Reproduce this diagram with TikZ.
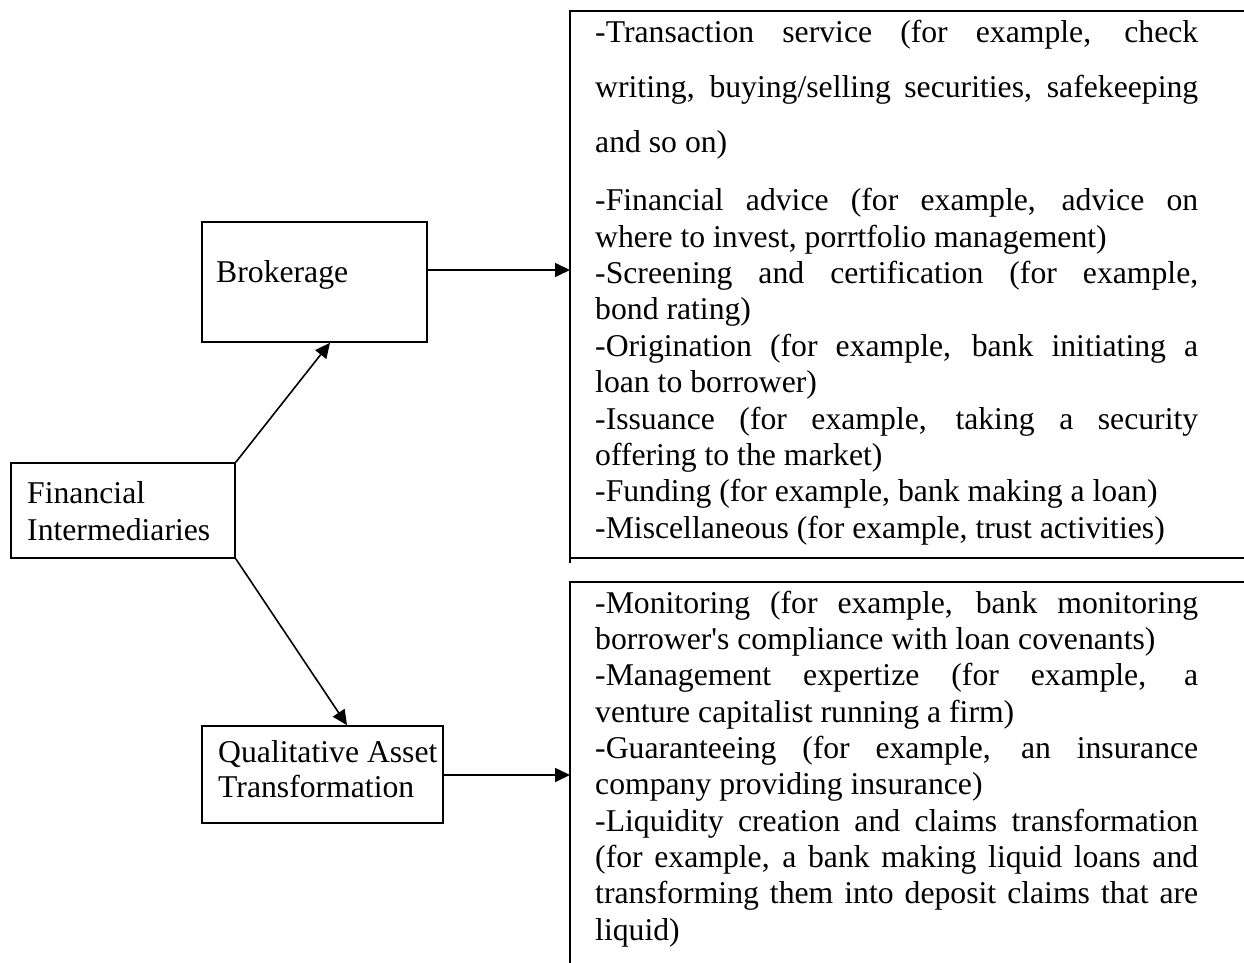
\documentclass[tikz,border=0pt]{standalone}
\usepackage{fontspec}
\setmainfont{Liberation Serif}
\usetikzlibrary{arrows.meta}
\newcommand\jline[1]{\makebox[603pt][s]{#1}}
\begin{document}
\begin{tikzpicture}[x=1pt,y=-1pt,
  box/.style={draw,line width=1.6pt,rectangle,inner sep=0pt},
  txt/.style={anchor=base west,inner sep=0pt,font=\fontsize{31.7pt}{36.5pt}\selectfont},
  arr/.style={line width=1.6pt,-{Triangle[length=15pt,width=14pt]}},
  frame/.style={line width=1.8pt}]
\useasboundingbox (0,0) rectangle (1244,963);
% left boxes
\node[box,minimum width=225pt,minimum height=120pt] (brok) at (314.5,282) {};
\node[box,minimum width=224pt,minimum height=95pt] (fi) at (123,510.5) {};
\node[box,minimum width=241pt,minimum height=97pt] (qat) at (322.5,774.5) {};
\node[txt] (brokt) at (216,282) {Brokerage};
\node[txt] (fit1) at (27,503) {Financial};
\node[txt] (fit2) at (27,540) {Intermediaries};
\node[txt] (qatt1) at (218,762) {Qualitative Asset};
\node[txt] (qatt2) at (218,797) {Transformation};
% right frames
\draw[frame] (1244,11) -- (570,11) -- (570,563);
\draw[frame] (570,558) -- (1244,558);
\draw[frame] (1244,582) -- (570,582) -- (570,963);
\coordinate (t1) at (570,270);
\coordinate (t2) at (570,775);
% connectors
\draw[arr] (fi.north east) -- ([xshift=15.5pt]brok.south);
\draw[arr] (fi.south east) -- ([xshift=24.5pt]qat.north);
\draw[arr] (brok.east |- t1) -- (t1);
\draw[arr] (qat.east |- t2) -- (t2);
% first list
\node[txt] (a1) at (595,43) {\jline{-Transaction service (for example, check}};
\node[txt] (a2) at (595,98) {\jline{writing, buying/selling securities, safekeeping}};
\node[txt] (a3) at (595,153) {and so on)};
\node[txt] (a4) at (595,210) {\jline{-Financial advice (for example, advice on}};
\node[txt] (a5) at (595,247) {where to invest, porrtfolio management)};
\node[txt] (a6) at (595,283.4) {\jline{-Screening and certification (for example,}};
\node[txt] (a7) at (595,319.8) {bond rating)};
\node[txt] (a8) at (595,356.2) {\jline{-Origination (for example, bank initiating a}};
\node[txt] (a9) at (595,392.6) {loan to borrower)};
\node[txt] (a10) at (595,429) {\jline{-Issuance (for example, taking a security}};
\node[txt] (a11) at (595,465.4) {offering to the market)};
\node[txt] (a12) at (595,501.8) {-Funding (for example, bank making a loan)};
\node[txt] (a13) at (595,538.2) {-Miscellaneous (for example, trust activities)};
% second list
\node[txt] (b1) at (595,613) {\jline{-Monitoring (for example, bank monitoring}};
\node[txt] (b2) at (595,649.3) {borrower\textquotesingle s compliance with loan covenants)};
\node[txt] (b3) at (595,685.7) {\jline{-Management expertize (for example, a}};
\node[txt] (b4) at (595,722) {venture capitalist running a firm)};
\node[txt] (b5) at (595,758.3) {\jline{-Guaranteeing (for example, an insurance}};
\node[txt] (b6) at (595,794.7) {company providing insurance)};
\node[txt] (b7) at (595,831) {\jline{-Liquidity creation and claims transformation}};
\node[txt] (b8) at (595,867.3) {\jline{(for example, a bank making liquid loans and}};
\node[txt] (b9) at (595,903.7) {\jline{transforming them into deposit claims that are}};
\node[txt] (b10) at (595,940) {liquid)};
\end{tikzpicture}
\end{document}
